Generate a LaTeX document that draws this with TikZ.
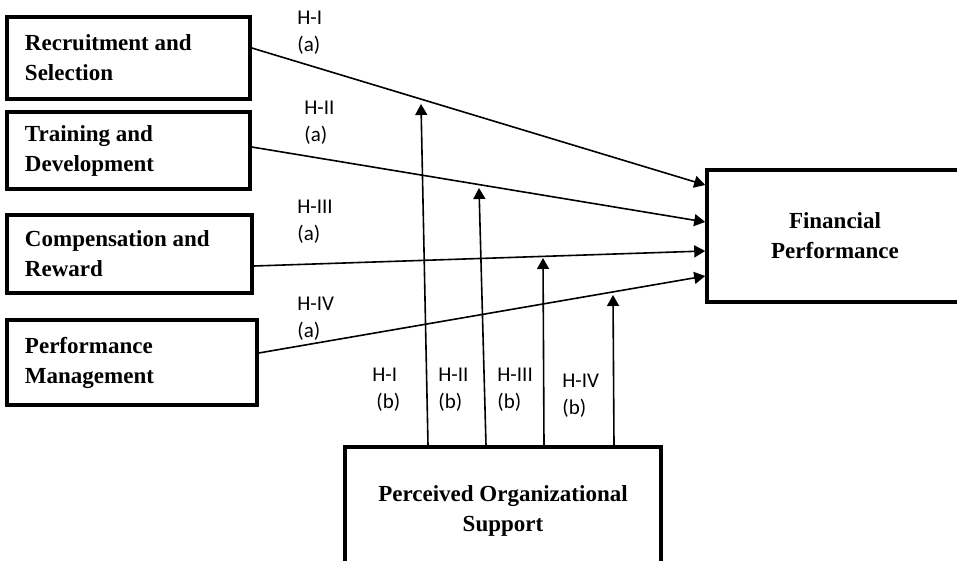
\documentclass[tikz,border=0pt]{standalone}
\usepackage{fontspec}
\setmainfont{Liberation Serif}
\newfontfamily\labelfont{Carlito}
\usetikzlibrary{arrows.meta,calc}
\begin{document}
\begin{tikzpicture}[x=0.5pt,y=-0.5pt,
  construct/.style={draw, line width=1.8pt, inner sep=0pt,
    font=\fontsize{11.5}{15}\selectfont\bfseries},
  leftbox/.style={construct, align=flush left, inner xsep=9pt},
  mainbox/.style={construct, align=center},
  link/.style={line width=0.8pt, -{Triangle[length=5.5pt,width=6pt]}},
  hyp/.style={font=\labelfont\fontsize{10.5}{13.5}\selectfont,
    align=flush left, inner sep=0pt, anchor=west}]
\useasboundingbox (0,0) rectangle (957,561);
\clip (0,0) rectangle (957,561);

% HRM practices
\node[leftbox, text width=103.5pt, minimum width=121.5pt, minimum height=41pt]
  (rs) at (128.5,58) {Recruitment and\\Selection};
\node[leftbox, text width=103.5pt, minimum width=121.5pt, minimum height=38.5pt]
  (td) at (128.5,150.5) {Training and\\Development};
\node[leftbox, text width=104.5pt, minimum width=122.5pt, minimum height=39pt]
  (cr) at (129.5,254) {Compensation and\\Reward};
\node[leftbox, text width=107pt, minimum width=125pt, minimum height=42.5pt]
  (pm) at (132,362.5) {Performance\\Management};

% outcome and moderator
\node[mainbox, minimum width=128pt, minimum height=66pt]
  (fp) at (835,236) {Financial\\Performance};
\node[mainbox, minimum width=158pt, minimum height=64pt]
  (pos) at (503,511) {Perceived Organizational\\Support};

% direct effects
\draw[link] ([yshift=5pt]rs.east) -- ([yshift=25.5pt]fp.west);
\draw[link] ([yshift=1.75pt]td.east) -- ([yshift=7pt]fp.west);
\draw[link] ([yshift=-6pt]cr.east) -- ([yshift=-7.5pt]fp.west);
\draw[link] ([yshift=4.75pt]pm.east) -- ([yshift=-20pt]fp.west);

% moderating effects
\coordinate (m1) at (421,104);
\coordinate (m2) at (479,188);
\coordinate (m3) at (543,258);
\coordinate (m4) at (613,295);
\draw[link] ([xshift=-37.5pt]pos.north) -- (m1);
\draw[link] ([xshift=-8.5pt]pos.north) -- (m2);
\draw[link] ([xshift=20.5pt]pos.north) -- (m3);
\draw[link] ([xshift=55.5pt]pos.north) -- (m4);

% hypothesis labels
\node[hyp] (ha1) at (297,32.5) {H-I\\(a)};
\node[hyp] (ha2) at (304,123) {H-II\\(a)};
\node[hyp] (ha3) at (297,222) {H-III\\(a)};
\node[hyp] (ha4) at (297,318.5) {H-IV\\(a)};
\node[hyp] (hb1) at (372,390) {H-I\\\hspace*{2pt}(b)};
\node[hyp] (hb2) at (438,390) {H-II\\(b)};
\node[hyp] (hb3) at (497,390) {H-III\\(b)};
\node[hyp] (hb4) at (562,396) {H-IV\\(b)};
\end{tikzpicture}
\end{document}
